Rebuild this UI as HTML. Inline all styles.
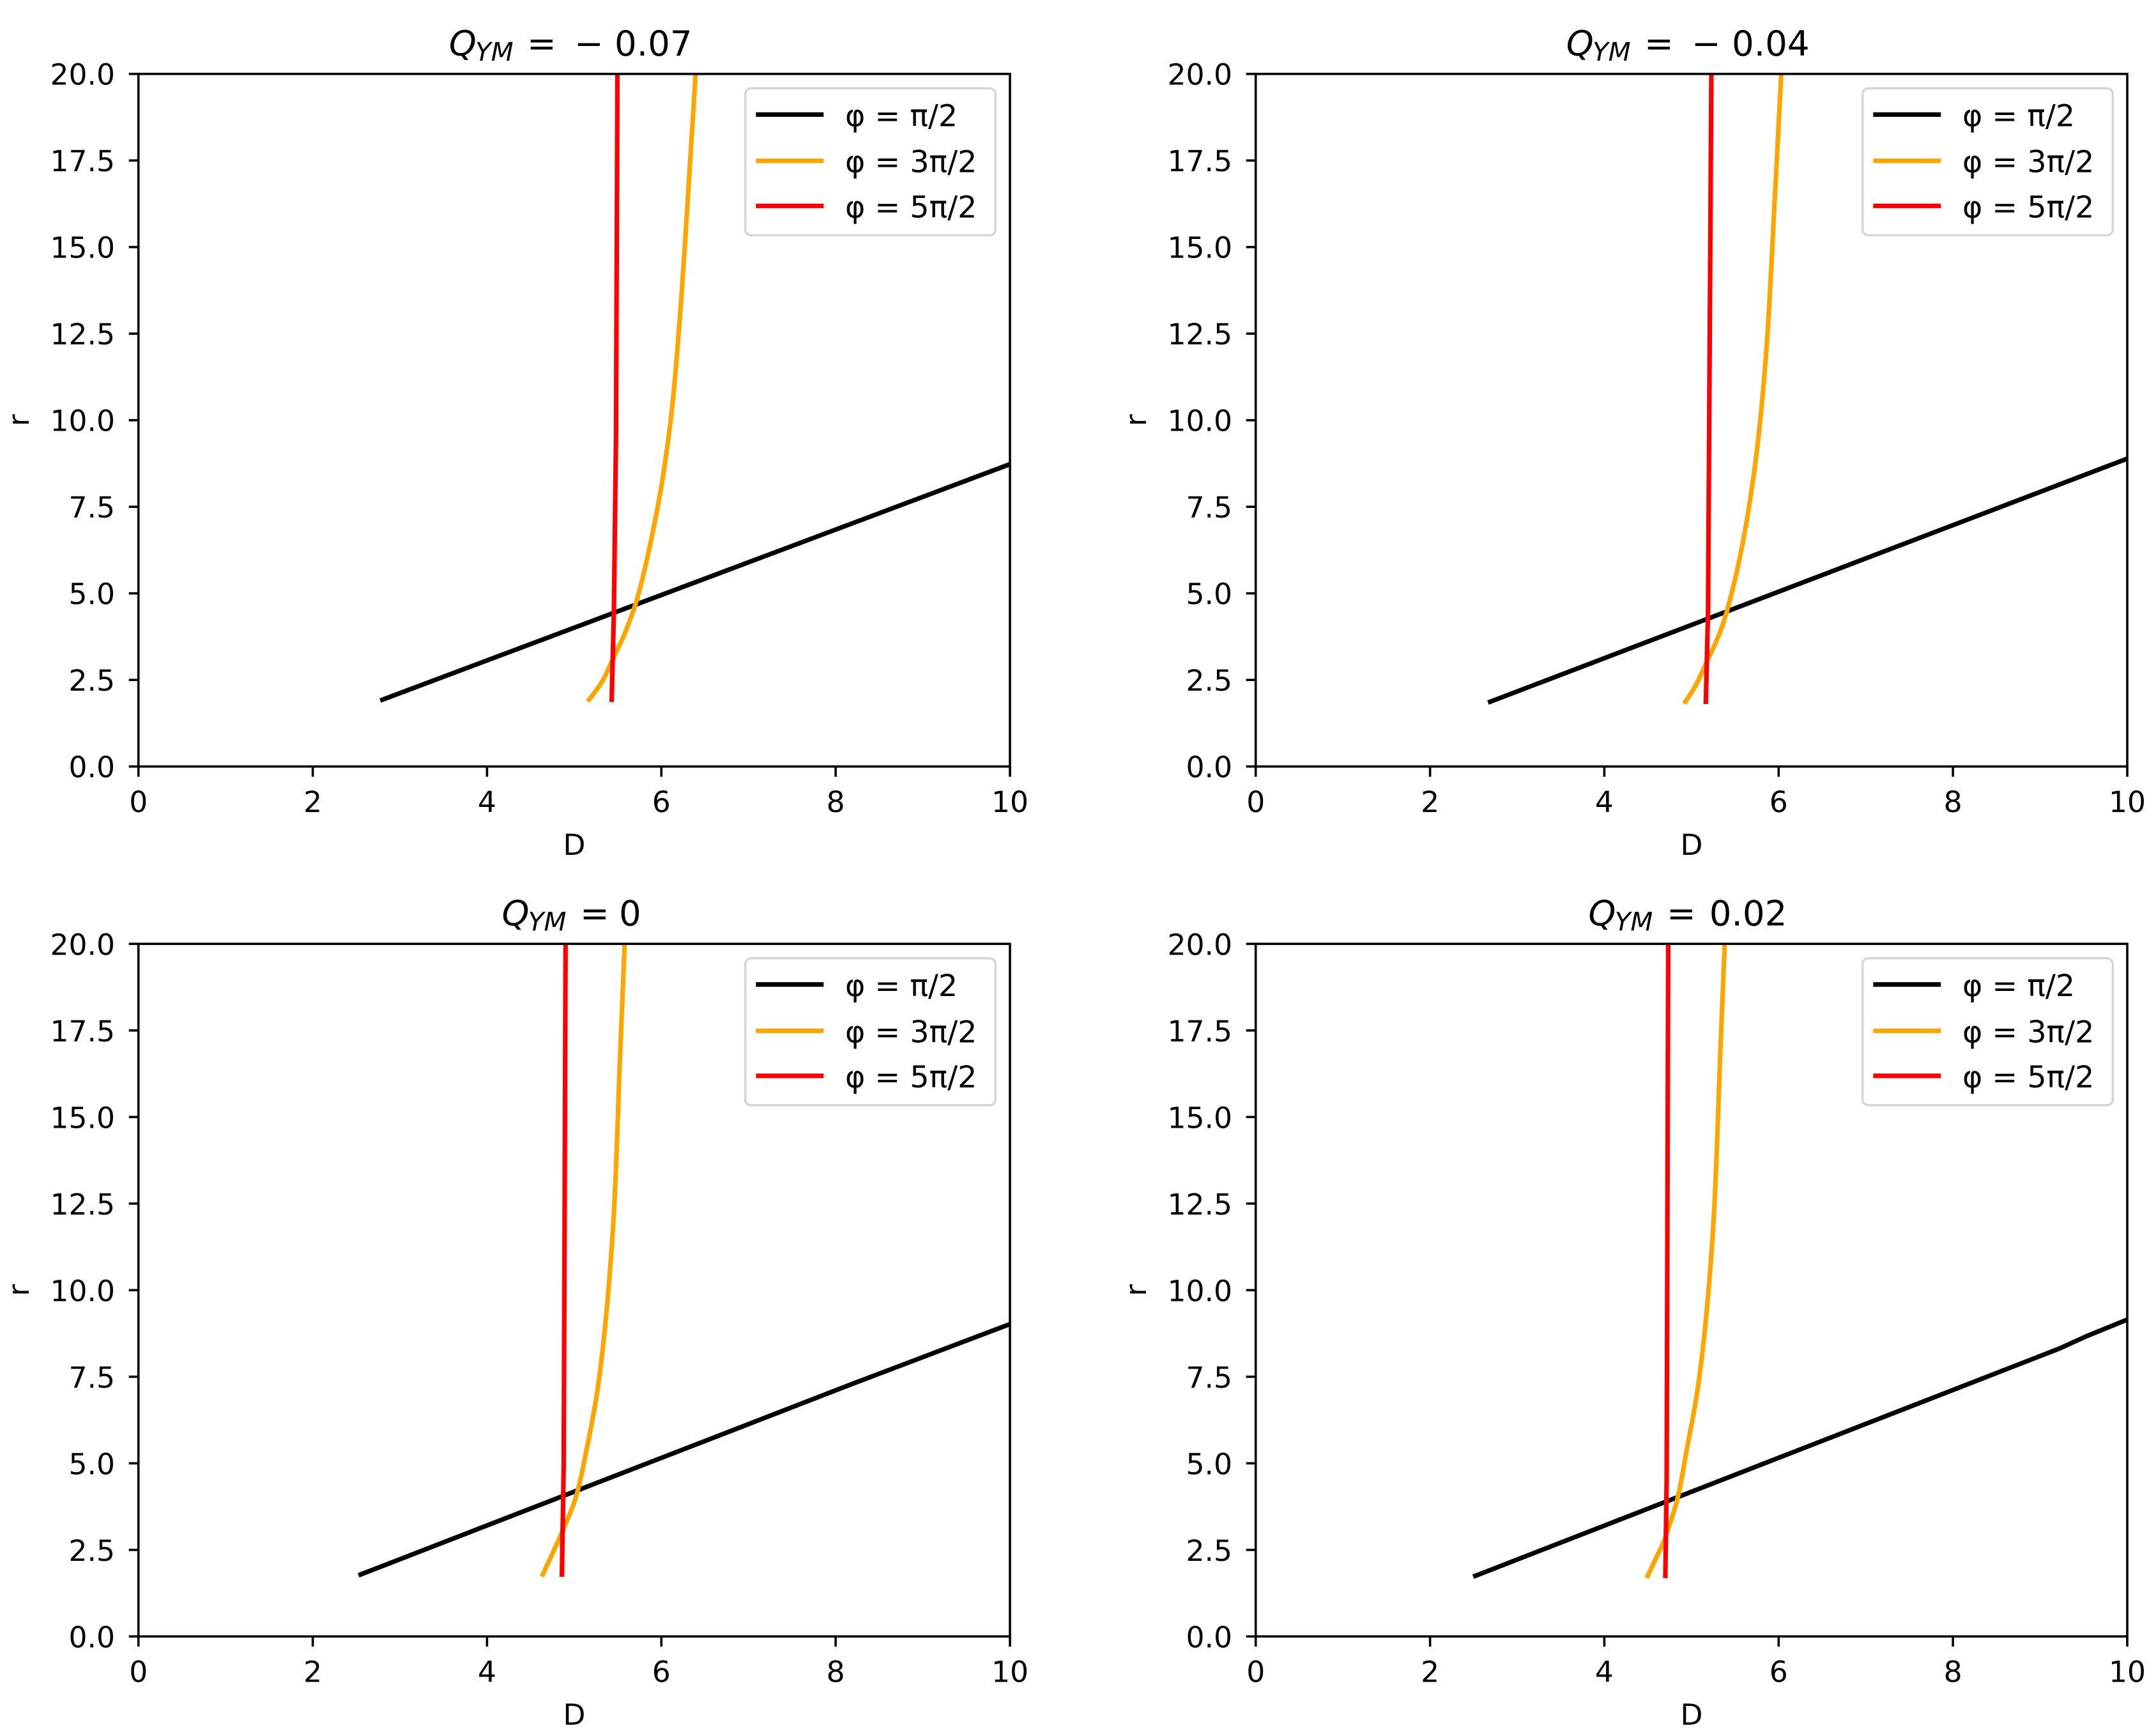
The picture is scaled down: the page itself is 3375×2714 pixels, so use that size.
<!DOCTYPE html>
<html>
<head>
<meta charset="utf-8">
<style>
html,body{margin:0;padding:0;background:#fff;}
body{width:3375px;height:2714px;overflow:hidden;}
svg{display:block;font-family:"DejaVu Sans","Liberation Sans",sans-serif;}
.tk{font-size:45.6px;fill:#000;}
.lg{font-size:47.5px;fill:#000;}
.ttl{font-size:54.6px;fill:#000;}
.ln{fill:none;stroke-width:7.2;stroke-linejoin:round;stroke-linecap:square;}
</style>
</head>
<body>
<svg width="3375" height="2714" viewBox="0 0 3375 2714" xmlns="http://www.w3.org/2000/svg">
<defs>
<clipPath id="ax" clipPathUnits="userSpaceOnUse"><rect x="216.7" y="115.7" width="1364.3" height="1084"/></clipPath>
<g id="frame">
  <rect x="216.7" y="115.7" width="1364.3" height="1084" fill="none" stroke="#000" stroke-width="3.6"/>
  <path d="M201.7 1199.7H216.7M201.7 1064.2H216.7M201.7 928.7H216.7M201.7 793.2H216.7M201.7 657.7H216.7M201.7 522.2H216.7M201.7 386.7H216.7M201.7 251.2H216.7M201.7 115.7H216.7M216.7 1199.7V1215.7M489.6 1199.7V1215.7M762.4 1199.7V1215.7M1035.3 1199.7V1215.7M1308.1 1199.7V1215.7M1581 1199.7V1215.7" stroke="#000" stroke-width="3.6" fill="none"/>
  <g class="tk" text-anchor="end">
    <text x="180" y="1216.7">0.0</text>
    <text x="180" y="1081.2">2.5</text>
    <text x="180" y="945.7">5.0</text>
    <text x="180" y="810.2">7.5</text>
    <text x="180" y="674.7">10.0</text>
    <text x="180" y="539.2">12.5</text>
    <text x="180" y="403.7">15.0</text>
    <text x="180" y="268.2">17.5</text>
    <text x="180" y="132.7">20.0</text>
  </g>
  <g class="tk" text-anchor="middle">
    <text x="216.7" y="1271">0</text>
    <text x="489.6" y="1271">2</text>
    <text x="762.4" y="1271">4</text>
    <text x="1035.3" y="1271">6</text>
    <text x="1308.1" y="1271">8</text>
    <text x="1581" y="1271">10</text>
    <text x="898.9" y="1338">D</text>
  </g>
  <text class="tk" text-anchor="middle" transform="translate(45 657.7) rotate(-90)">r</text>
  <rect x="1166.7" y="138.3" width="391.6" height="230" rx="9" ry="9" fill="#fff" fill-opacity="0.8" stroke="#d6d6d6" stroke-width="3.5"/>
  <path d="M1183.3 179.3H1289.3" stroke="#000" stroke-width="7.2"/>
  <path d="M1183.3 251.7H1289.3" stroke="#FFA500" stroke-width="7.2"/>
  <path d="M1183.3 322.3H1289.3" stroke="#FF0000" stroke-width="7.2"/>
  <g class="lg">
    <text x="1323" y="197.3">φ = π/2</text>
    <text x="1323" y="269.7">φ = 3π/2</text>
    <text x="1323" y="340.3">φ = 5π/2</text>
  </g>
</g>
</defs>

<!-- Top-left: Q = -0.07 -->
<g>
  <g clip-path="url(#ax)">
    <path class="ln" stroke="#000" d="M598.7 1095.1L1581 726.5"/>
    <path class="ln" stroke="#FFA500" d="M922.04 1095.1C925.45 1090.4 935.92 1078.3 942.51 1066.91C949.1 1055.53 955.58 1039.63 961.61 1026.8C967.64 1013.97 972.52 1005.49 978.66 989.95C984.8 974.41 991.73 957.43 998.44 933.58C1005.16 909.73 1012.32 878.39 1018.91 846.86C1025.5 815.33 1032.17 782.18 1038.01 744.42C1043.84 706.66 1049.09 668.63 1053.97 620.3C1058.86 571.97 1063.45 507.66 1067.34 454.45C1071.23 401.24 1073.71 357.52 1077.3 301.06C1080.89 244.6 1086.96 146.59 1088.9 115.7L1089.85 99.44"/>
    <path class="ln" stroke="#FF0000" d="M957.51 1095.1L960.93 961.22L964.34 679.38L966.52 115.7L966.66 99.44"/>
  </g>
  <use href="#frame"/>
  <g class="ttl">
    <text x="702.7" y="87" font-style="italic">Q</text>
    <text x="744" y="95" font-style="italic" font-size="40.5">YM</text>
    <text x="825" y="87">=</text>
    <text x="899" y="87">−</text>
    <text x="962" y="87">0.07</text>
  </g>
</g>

<!-- Top-right: Q = -0.04 -->
<g transform="translate(1749 0)">
  <g clip-path="url(#ax)">
    <path class="ln" stroke="#000" d="M583.7 1098.35L1581 717.86"/>
    <path class="ln" stroke="#FFA500" d="M889.3 1098.35C892.03 1094.01 900.35 1082.18 905.67 1072.33C910.99 1062.48 914.44 1054.35 921.22 1039.27C928.01 1024.18 938.65 1004.13 946.33 981.82C954.01 959.5 960.68 934.12 967.34 905.39C974 876.67 980.2 846.68 986.3 809.46C992.4 772.24 998.65 729.88 1003.9 682.09C1009.15 634.3 1013.49 586.52 1017.82 522.74C1022.14 458.97 1026.23 367.28 1029.82 299.44C1033.41 231.6 1037.78 146.32 1039.37 115.7L1040.05 99.44"/>
    <path class="ln" stroke="#FF0000" d="M921.36 1098.35L924.77 955.8L929.96 115.7L929.98 99.44"/>
  </g>
  <use href="#frame"/>
  <g class="ttl">
    <text x="702.7" y="87" font-style="italic">Q</text>
    <text x="744" y="95" font-style="italic" font-size="40.5">YM</text>
    <text x="825" y="87">=</text>
    <text x="899" y="87">−</text>
    <text x="962" y="87">0.04</text>
  </g>
</g>

<!-- Bottom-left: Q = 0 -->
<g transform="translate(0 1361.6)">
  <g clip-path="url(#ax)">
    <path class="ln" stroke="#000" d="M564.6 1102.68L1332.29 805.12L1581 710.82"/>
    <path class="ln" stroke="#FFA500" d="M849.74 1102.68C852.05 1097.63 858.85 1082.9 863.65 1072.33C868.46 1061.76 872.22 1054.35 878.52 1039.27C884.83 1024.18 894.76 1004.13 901.44 981.82C908.13 959.5 912.87 934.12 918.63 905.39C924.38 876.67 930.67 846.68 935.96 809.46C941.24 772.24 945.99 729.88 950.29 682.09C954.58 634.3 958.4 586.52 961.74 522.74C965.09 458.97 967.65 367.28 970.34 299.44C973.03 231.6 976.59 146.32 977.84 115.7L978.25 99.44"/>
    <path class="ln" stroke="#FF0000" d="M879.61 1102.68L882.48 928.7L885.34 115.7L885.36 99.44"/>
  </g>
  <use href="#frame"/>
  <g class="ttl">
    <text x="785.5" y="87" font-style="italic">Q</text>
    <text x="826.8" y="95" font-style="italic" font-size="40.5">YM</text>
    <text x="908" y="87">=</text>
    <text x="969" y="87">0</text>
  </g>
</g>

<!-- Bottom-right: Q = 0.02 -->
<g transform="translate(1749 1361.6)">
  <g clip-path="url(#ax)">
    <path class="ln" stroke="#000" d="M560.5 1104.85L1474.31 749.3L1517.29 729.79L1581 703.77"/>
    <path class="ln" stroke="#FFA500" d="M830.36 1104.85C832.68 1099.88 839.78 1084.89 844.28 1075.04C848.78 1065.19 851.85 1061.31 857.38 1045.77C862.91 1030.23 871.7 1005.21 877.43 981.82C883.16 958.42 886.5 934.12 891.76 905.39C897.01 876.67 903.67 846.68 908.95 809.46C914.23 772.24 919.09 729.88 923.41 682.09C927.73 634.3 931.53 586.52 934.87 522.74C938.21 458.97 940.8 367.28 943.46 299.44C946.12 231.6 949.6 146.32 950.83 115.7L951.24 99.44"/>
    <path class="ln" stroke="#FF0000" d="M857.92 1104.85L859.97 955.8L862.42 115.7L862.44 99.44"/>
  </g>
  <use href="#frame"/>
  <g class="ttl">
    <text x="737.4" y="87" font-style="italic">Q</text>
    <text x="778.7" y="95" font-style="italic" font-size="40.5">YM</text>
    <text x="860" y="87">=</text>
    <text x="926.8" y="87">0.02</text>
  </g>
</g>
</svg>
</body>
</html>
